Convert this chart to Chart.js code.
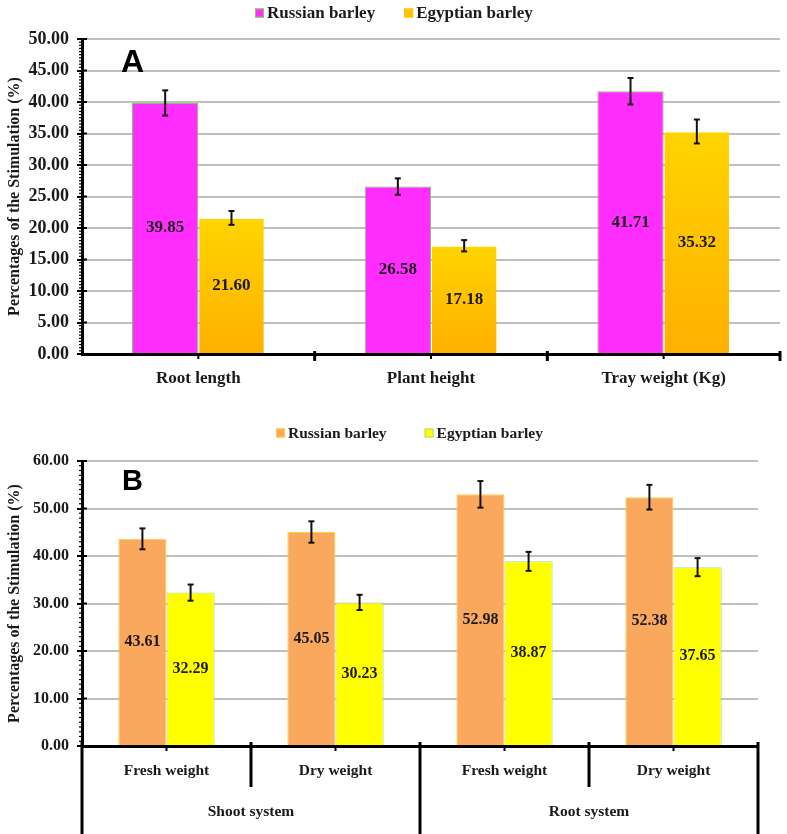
<!DOCTYPE html>
<html>
<head>
<meta charset="utf-8">
<title>Stimulation of Russian and Egyptian barley</title>
<script src="https://cdn.jsdelivr.net/npm/chart.js@4.4.1/dist/chart.umd.min.js"></script>
<style>
  body { margin: 0; background: #fff; }
  canvas.panel { position: absolute; left: 0; }
</style>
</head>
<body>
<canvas id="chartA" class="panel" style="top:0" width="787" height="390"></canvas>
<canvas id="chartB" class="panel" style="top:390px" width="787" height="444"></canvas>
<script>
'use strict';

// ---- data, panel A ----
var seriesNames = ['Russian barley', 'Egyptian barley'];
var catsA = ['Root length', 'Plant height', 'Tray weight (Kg)'];
var russianA = [39.85, 26.58, 41.71];
var egyptA = [21.60, 17.18, 35.32];
var russianAErr = [2.0, 1.3, 2.1];
var egyptAErr = [1.1, 0.9, 1.9];

// ---- data, panel B ----
var catsB = ['Fresh weight', 'Dry weight', 'Fresh weight', 'Dry weight'];
var groupsB = ['Shoot system', 'Root system'];
var groupSizesB = [2, 2];
var russianB = [43.61, 45.05, 52.98, 52.38];
var egyptB = [32.29, 30.23, 38.87, 37.65];
var russianBErr = [2.2, 2.25, 2.8, 2.6];
var egyptBErr = [1.7, 1.6, 2.0, 1.9];

var yTitle = 'Percentages of the Stimulation (%)';
var serif = "'Liberation Serif', 'Times New Roman', serif";

function line(ctx, x1, y1, x2, y2) {
  ctx.beginPath();
  ctx.moveTo(x1, y1);
  ctx.lineTo(x2, y2);
  ctx.stroke();
}

// vertical gradient per bar (Excel-style gold fill)
function barGradient(top, bottom) {
  return function (c) {
    var chart = c.chart;
    if (!chart.chartArea || c.type !== 'data' || !chart.scales.y) return bottom;
    var y = chart.scales.y;
    var g = chart.ctx.createLinearGradient(0, y.getPixelForValue(c.raw), 0, y.getPixelForValue(0));
    g.addColorStop(0, top);
    g.addColorStop(1, bottom);
    return g;
  };
}

var extras = {
  id: 'extras',
  afterDatasetsDraw: function (chart, args, o) {
    var ctx = chart.ctx, ys = chart.scales.y;
    ctx.save();
    chart.data.datasets.forEach(function (ds, di) {
      chart.getDatasetMeta(di).data.forEach(function (bar, i) {
        var v = ds.data[i], e = ds.errors[i];
        var top = ys.getPixelForValue(v + e), bot = ys.getPixelForValue(v - e);
        ctx.strokeStyle = '#111';
        ctx.lineWidth = 2;
        line(ctx, bar.x, top, bar.x, bot);
        line(ctx, bar.x - 3, top, bar.x + 3, top);
        line(ctx, bar.x - 3, bot, bar.x + 3, bot);
        ctx.fillStyle = '#1a1a1a';
        ctx.font = 'bold ' + o.valueSize + 'px ' + serif;
        ctx.textAlign = 'center';
        ctx.textBaseline = 'middle';
        ctx.fillText(v.toFixed(2), bar.x, (bar.y + bar.base) / 2);
      });
    });
    ctx.restore();
  },
  afterDraw: function (chart, args, o) {
    var ctx = chart.ctx, area = chart.chartArea;
    var xs = chart.scales.x, ys = chart.scales.y;
    ctx.save();
    ctx.strokeStyle = '#000';

    // minor ticks on the value axis
    var step = ys.options.ticks.stepSize;
    var count = Math.round((ys.max - ys.min) / o.minorStep);
    for (var k = 0; k <= count; k++) {
      var v = ys.min + k * o.minorStep;
      var y = ys.getPixelForValue(v);
      var r = v / step;
      if (Math.abs(r - Math.round(r)) < 1e-6) {
        ctx.lineWidth = 2;
        line(ctx, area.left, y, area.left + 5, y);
      } else {
        ctx.lineWidth = 1.2;
        line(ctx, area.left - 3, y, area.left + 2, y);
      }
    }

    // category boundaries / group lines on the category axis
    var n = chart.data.labels.length;
    var axisY = area.bottom;
    var edges = [area.left];
    for (var i = 0; i < n - 1; i++) {
      edges.push((xs.getPixelForValue(i) + xs.getPixelForValue(i + 1)) / 2);
    }
    edges.push(area.right);
    var groupEdge = {};
    if (o.groupSizes) {
      var acc = 0;
      groupEdge[0] = true;
      o.groupSizes.forEach(function (s) { acc += s; groupEdge[acc] = true; });
    }
    edges.forEach(function (x, i) {
      if (i === 0 && !o.groupSizes) return;
      ctx.lineWidth = 3;
      line(ctx, x, axisY - o.tickUp, x, axisY + (groupEdge[i] ? o.groupDown : o.tickDown));
    });
    for (var j = 0; j < n; j++) {
      var cx = xs.getPixelForValue(j);
      ctx.lineWidth = 2;
      line(ctx, cx, axisY, cx, axisY + 5);
    }
    if (o.groupLabels) {
      ctx.fillStyle = '#1a1a1a';
      ctx.font = 'bold ' + o.groupSize + 'px ' + serif;
      ctx.textAlign = 'center';
      ctx.textBaseline = 'middle';
      var start = 0;
      o.groupLabels.forEach(function (lab, gi) {
        var end = start + o.groupSizes[gi];
        ctx.fillText(lab, (edges[start] + edges[end]) / 2, axisY + o.groupLabelOffset);
        start = end;
      });
    }

    // legend
    var lx = o.legend.x;
    ctx.font = 'bold ' + o.legend.size + 'px ' + serif;
    ctx.textAlign = 'left';
    ctx.textBaseline = 'middle';
    chart.data.datasets.forEach(function (ds, i) {
      var sw = o.legend.swatches[i];
      ctx.fillStyle = sw.fill;
      ctx.fillRect(lx, o.legend.y - 4.5, 9, 9);
      ctx.lineWidth = 1;
      ctx.strokeStyle = sw.stroke;
      ctx.strokeRect(lx + 0.5, o.legend.y - 4, 8, 8);
      lx += 12;
      ctx.fillStyle = '#1a1a1a';
      ctx.fillText(ds.label, lx, o.legend.y + 1);
      lx += ctx.measureText(ds.label).width + o.legend.gap;
    });

    // panel letter
    ctx.fillStyle = '#000';
    ctx.font = 'bold ' + o.letter.size + "px 'Liberation Sans', Arial, sans-serif";
    ctx.textBaseline = 'alphabetic';
    ctx.fillText(o.letter.text, o.letter.x, o.letter.y);
    ctx.restore();
  }
};

function makeChart(id, cfg) {
  return new Chart(document.getElementById(id), {
    type: 'bar',
    plugins: [extras],
    data: {
      labels: cfg.labels,
      datasets: cfg.datasets.map(function (d) {
        return {
          label: d.label,
          data: d.data,
          errors: d.errors,
          backgroundColor: d.fill,
          borderColor: d.stroke,
          borderWidth: 1,
          barPercentage: 1.0,
          categoryPercentage: 0.57
        };
      })
    },
    options: {
      responsive: false,
      animation: false,
      devicePixelRatio: 1,
      layout: { padding: { top: cfg.top, right: cfg.right, left: 0, bottom: 0 } },
      plugins: {
        legend: { display: false },
        tooltip: { enabled: false },
        extras: cfg.extras
      },
      scales: {
        x: {
          afterFit: function (s) { s.height = cfg.xHeight; },
          border: { color: '#000', width: 3, z: 1 },
          grid: { display: false, drawTicks: false },
          ticks: {
            padding: cfg.xPad, color: '#1a1a1a', autoSkip: false, maxRotation: 0,
            font: { family: serif, size: cfg.labelSize, weight: 'bold' }
          }
        },
        y: {
          min: 0,
          max: cfg.yMax,
          afterFit: function (s) { s.width = 82; },
          border: { color: '#000', width: 3, z: 1 },
          grid: {
            color: function (c) { return c.tick && c.tick.value === 0 ? 'rgba(0,0,0,0)' : '#bfbfbf'; },
            lineWidth: 2,
            tickColor: '#000',
            tickLength: 5,
            tickWidth: 2
          },
          ticks: {
            stepSize: cfg.yStep, padding: 8, color: '#1a1a1a',
            font: { family: serif, size: cfg.tickSize, weight: 'bold' },
            callback: function (v) { return Number(v).toFixed(2); }
          },
          title: {
            display: true, text: yTitle, color: '#1a1a1a',
            font: { family: serif, size: 16, weight: 'bold' },
            padding: { top: 5, bottom: 0 }
          }
        }
      }
    }
  });
}

makeChart('chartA', {
  labels: catsA,
  top: 39, right: 7, xHeight: 36, xPad: 14,
  yMax: 50, yStep: 5, tickSize: 18, labelSize: 17,
  datasets: [
    { label: seriesNames[0], data: russianA, errors: russianAErr, fill: '#ff2eff', stroke: '#7acb5a' },
    { label: seriesNames[1], data: egyptA, errors: egyptAErr, fill: barGradient('#ffd400', '#ffb000'), stroke: 'rgba(0,0,0,0)' }
  ],
  extras: {
    valueSize: 17, minorStep: 0.5,
    tickUp: 3, tickDown: 7,
    legend: { x: 255, y: 13, gap: 29, size: 17, swatches: [
      { fill: '#ff2eff', stroke: '#7acb5a' }, { fill: '#ffc400', stroke: '#ffc400' }
    ] },
    letter: { text: 'A', x: 121, y: 72, size: 32 }
  }
});

makeChart('chartB', {
  labels: catsB,
  top: 71, right: 29, xHeight: 88, xPad: 16,
  yMax: 60, yStep: 10, tickSize: 16, labelSize: 15.5,
  datasets: [
    { label: seriesNames[0], data: russianB, errors: russianBErr, fill: '#f9a85e', stroke: '#ffd23c' },
    { label: seriesNames[1], data: egyptB, errors: egyptBErr, fill: '#ffff00', stroke: '#a6d99a' }
  ],
  extras: {
    valueSize: 16, minorStep: 1,
    tickUp: 4, tickDown: 41, groupDown: 88,
    groupLabels: groupsB, groupSizes: groupSizesB, groupSize: 15.5, groupLabelOffset: 66,
    legend: { x: 276, y: 43, gap: 38, size: 15.5, swatches: [
      { fill: '#f9a85e', stroke: '#ffd23c' }, { fill: '#ffff00', stroke: '#a6d99a' }
    ] },
    letter: { text: 'B', x: 122, y: 100, size: 29 }
  }
});
</script>
</body>
</html>
